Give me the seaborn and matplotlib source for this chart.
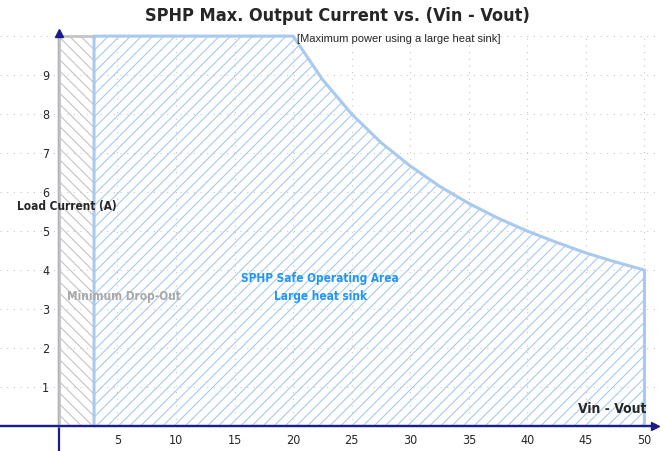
import matplotlib.pyplot as plt
import seaborn as sns
import numpy as np
import pandas as pd

# Curva de corrente maxima
vin_vout = [3, 20, 22.5, 25, 27.5, 30, 32.5, 35, 37.5, 40, 42.5, 45, 47.5, 50]
corrente = [10, 10, 8.89, 8.0, 7.27, 6.67, 6.15, 5.71, 5.33, 5.0, 4.71, 4.44, 4.21, 4.0]
dropout_x = [0, 3]
dropout_y = [10, 10]
x_ticks = [5, 10, 15, 20, 25, 30, 35, 40, 45, 50]
y_ticks = [1, 2, 3, 4, 5, 6, 7, 8, 9]
y_grid = [1, 2, 3, 4, 5, 6, 7, 8, 9, 10]

sns.set_theme(style="white")
plt.rcParams['font.family'] = ['DejaVu Sans']
plt.rcParams['font.stretch'] = 'condensed'
plt.rcParams['hatch.linewidth'] = 0.8

azul = '#a9c9ef'
cinza = '#c4c4c4'
marinho = '#1c1c8a'

fig = plt.figure(figsize=(6.63, 4.51), dpi=100)
ax = fig.add_axes([0, 0, 655 / 663, (451 - 33) / 451])
ax.set_xlim(-5.03, 50.9)
ax.set_ylim(-0.64, 10.08)

# Grade pontilhada
ax.hlines(y_grid, -5.03, 50.9, colors='#c8c8c8', linestyles=(0, (1, 5)), linewidth=0.8, zorder=0)
ax.vlines(x_ticks, 0, 10.08, colors='#c8c8c8', linestyles=(0, (1, 5)), linewidth=0.8, zorder=0)

# Eixos com setas
ax.spines['left'].set_position(('data', 0))
ax.spines['bottom'].set_position(('data', 0))
ax.spines['right'].set_visible(False)
ax.spines['top'].set_visible(False)
for s in ['left', 'bottom']:
    ax.spines[s].set_color(marinho)
    ax.spines[s].set_linewidth(1.6)
    ax.spines[s].set_zorder(1)
ax.plot(1, 0, '>', color=marinho, ms=6, transform=ax.get_yaxis_transform(), clip_on=False, zorder=5)
ax.plot(0, 1, '^', color=marinho, ms=6, transform=ax.get_xaxis_transform(), clip_on=False, zorder=5)

# Regiao de drop-out minimo
ax.fill_between(dropout_x, 0, dropout_y, facecolor='none', edgecolor=cinza, hatch='\\\\\\', linewidth=0, zorder=2)
ax.plot([0, 0, 3], [0, 10, 10], color=cinza, lw=2, zorder=3)

# Area de operacao segura
ax.fill_between(vin_vout, 0, corrente, facecolor='none', edgecolor=azul, hatch='///', linewidth=0, zorder=2)
df = pd.DataFrame({'x': [3] + vin_vout + [50], 'y': [0] + corrente + [0]})
sns.lineplot(data=df, x='x', y='y', sort=False, estimator=None, color=azul, lw=2.2, ax=ax, zorder=3)
ax.axhline(0, color=marinho, lw=1.6, zorder=4)

ax.set_xticks(x_ticks)
ax.set_yticks(y_ticks)
ax.tick_params(axis='x', direction='inout', length=8, width=1, color='#6a6ac0', labelsize=9, pad=2)
ax.tick_params(axis='y', direction='out', length=6, width=1, color='#6a6ac0', labelsize=9, pad=1)
ax.set_xlabel('')
ax.set_ylabel('')

ax.text(-3.6, 5.63, 'Load Current (A)', fontsize=8.5, fontweight='bold', ha='left', va='center')
ax.text(0.68, 3.31, 'Minimum Drop-Out', fontsize=8.5, fontweight='bold', color='#a8a8a8', ha='left', va='center')
ax.text(22.3, 3.55, 'SPHP Safe Operating Area\nLarge heat sink', fontsize=8.5, fontweight='bold',
        color='#2196f3', ha='center', va='center', linespacing=1.5)
ax.text(20.3, 9.92, '[Maximum power using a large heat sink]', fontsize=8, ha='left', va='center',
        family=['Liberation Sans', 'DejaVu Sans'], fontstretch='normal')
ax.text(50.2, 0.44, 'Vin - Vout', fontsize=10, fontweight='bold', ha='right', va='center')

fig.text(337 / 663, 1 - 16 / 451, 'SPHP Max. Output Current vs. (Vin - Vout)', fontsize=13,
         fontweight='bold', ha='center', va='center')

fig.savefig('out.png', dpi=100)
